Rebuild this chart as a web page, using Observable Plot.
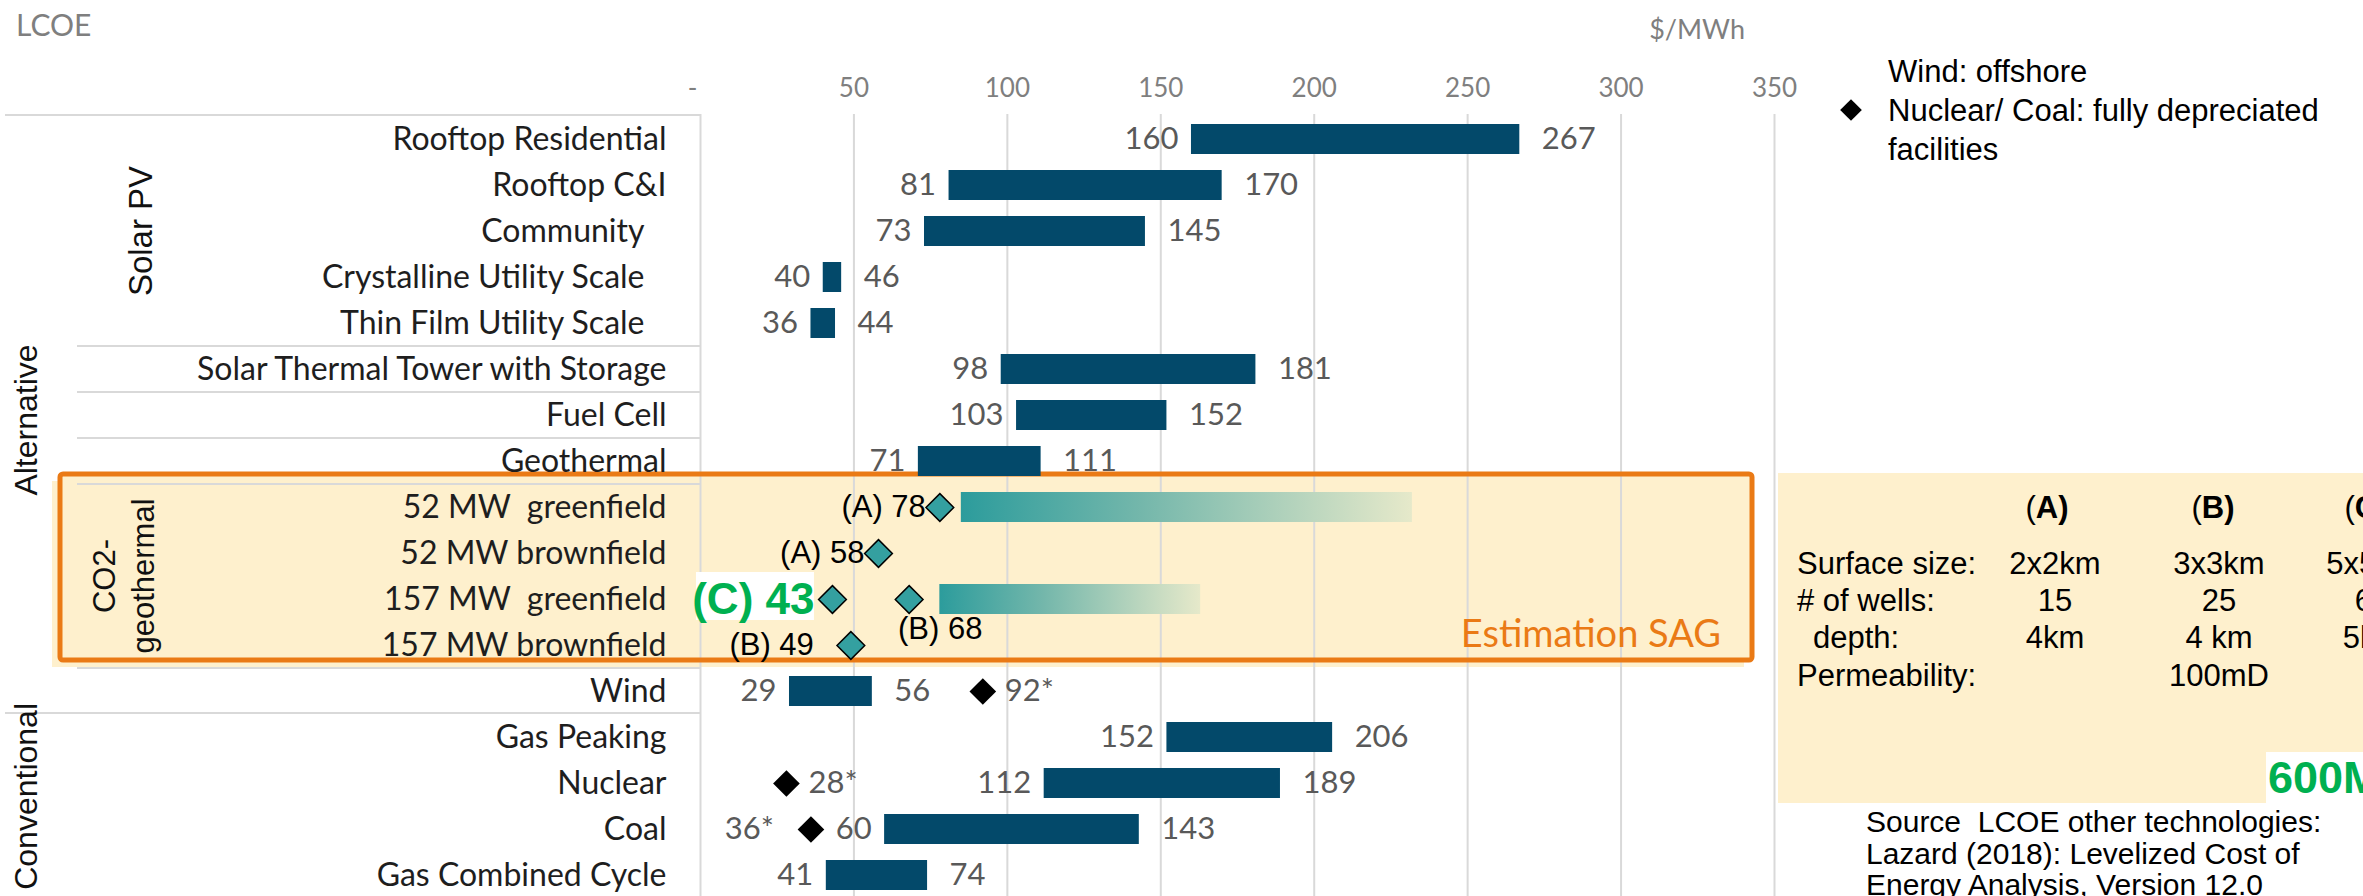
<!DOCTYPE html>
<html>
<head>
<meta charset="utf-8">
<script src="https://cdn.jsdelivr.net/npm/d3@7"></script>
<script src="https://cdn.jsdelivr.net/npm/@observablehq/plot@0.6"></script>
<style>
  html, body { margin: 0; padding: 0; background: #fff; }
  #chart svg { display: block; }
</style>
</head>
<body>
<div id="chart"></div>
<script>
// ---- Rows of the chart, top to bottom ----
const technologies = [
  "Rooftop Residential", "Rooftop C&I", "Community", "Crystalline Utility Scale",
  "Thin Film Utility Scale", "Solar Thermal Tower with Storage", "Fuel Cell", "Geothermal",
  "52 MW\u00a0 greenfield", "52 MW brownfield", "157 MW\u00a0 greenfield", "157 MW brownfield",
  "Wind", "Gas Peaking", "Nuclear", "Coal", "Gas Combined Cycle"
];

// ---- LCOE ranges of other technologies (Lazard 2018), $/MWh ----
const rangeTech = [
  "Rooftop Residential", "Rooftop C&I", "Community", "Crystalline Utility Scale",
  "Thin Film Utility Scale", "Solar Thermal Tower with Storage", "Fuel Cell", "Geothermal",
  "Wind", "Gas Peaking", "Nuclear", "Coal", "Gas Combined Cycle"
];
const rangeLow  = [160, 81, 73, 40, 36, 98, 103, 71, 29, 152, 112, 60, 41];
const rangeHigh = [267, 170, 145, 46, 44, 181, 152, 111, 56, 206, 189, 143, 74];

// ---- Offshore wind / fully depreciated plants ----
const specialTech  = ["Wind", "Nuclear", "Coal"];
const specialValue = [92, 28, 36];

// ---- CO2-geothermal estimates (SAG) ----
const co2Tech  = ["52 MW\u00a0 greenfield", "52 MW brownfield", "157 MW\u00a0 greenfield", "157 MW\u00a0 greenfield", "157 MW brownfield"];
const co2Case  = ["A", "A", "C", "B", "B"];
const co2Value = [78, 58, 43, 68, 49];

// ---- CO2-geothermal estimate spread ----
const spreadTech = ["52 MW\u00a0 greenfield", "157 MW\u00a0 greenfield"];
const spreadLow  = [85, 78];
const spreadHigh = [232, 163];

// ---- Axis ----
const xTicks = [0, 50, 100, 150, 200, 250, 300, 350];

// ---- Side table of the SAG scenarios ----
const scenarioHead  = ["A", "B", "C"];
const scenarioRows  = ["Surface size:", "# of wells:", "depth:", "Permeability:"];
const scenarioCells = [
  ["2x2km", "3x3km", "5x5km"],
  ["15", "25", "60"],
  ["4km", "4 km", "5km"],
  ["", "100mD", ""]
];

// ---- Build tables for the marks ----
const ranges = rangeTech.map((t, i) => ({tech: t, low: rangeLow[i], high: rangeHigh[i]}));
const specials = specialTech.map((t, i) => ({tech: t, value: specialValue[i]}));
const co2 = co2Tech.map((t, i) => ({tech: t, scenario: co2Case[i], value: co2Value[i]}));
const spreads = spreadTech.map((t, i) => ({tech: t, low: spreadLow[i], high: spreadHigh[i]}));

const NAVY = "#03496A";
const TEAL = "#34A0A0";
const GRID = "#D9D9D9";
const YELLOW = "#FEF0CD";
const ORANGE = "#EA7A15";
const LABEL = "#595959";
const CAL = "Lato, 'Open Sans', sans-serif";
const ARIAL = "'Liberation Sans', Arial, sans-serif";

// labels that sit a little further from the axis
const indented = new Set(["Community", "Crystalline Utility Scale", "Thin Film Utility Scale"]);

const ns = "http://www.w3.org/2000/svg";
function el(tag, attrs, text) {
  const e = document.createElementNS(ns, tag);
  for (const k in attrs) e.setAttribute(k, attrs[k]);
  if (text != null) e.textContent = text;
  return e;
}

// band helpers from the y scale
function band(scales) {
  const y = scales.y;
  const bw = y.bandwidth ? y.bandwidth() : 46.2;
  return {top: (t) => y(t), bottom: (t) => y(t) + bw, bw};
}

// Backgrounds: gradient definition, highlight panels
function backgrounds(index, scales) {
  const g = el("g", {});
  const defs = el("defs", {});
  const grad = el("linearGradient", {id: "co2spread", x1: "0", x2: "1", y1: "0", y2: "0"});
  grad.appendChild(el("stop", {offset: "0", "stop-color": "#2C9C9C"}));
  grad.appendChild(el("stop", {offset: "0.4", "stop-color": "#74B7AB"}));
  grad.appendChild(el("stop", {offset: "1", "stop-color": "#E6E9CA"}));
  defs.appendChild(grad);
  g.appendChild(defs);
  const b = band(scales);
  const top = b.top(technologies[8]) - 10;
  const bottom = b.bottom(technologies[11]) - 8;
  // soft offset shadow of the estimate box + its fill
  g.appendChild(el("rect", {x: 52, y: top + 7, width: 1692, height: bottom - top, fill: YELLOW}));
  g.appendChild(el("rect", {x: 60, y: top, width: 1692, height: bottom - top, fill: YELLOW}));
  // scenario table panel
  g.appendChild(el("rect", {x: 1778, y: 473, width: 600, height: 330, fill: YELLOW}));
  return g;
}

// Row separators of the category table
function separators(index, scales) {
  const g = el("g", {stroke: GRID, "stroke-width": 2});
  const b = band(scales);
  const full = [technologies[0], technologies[13]];
  const inner = [technologies[5], technologies[6], technologies[7], technologies[8], technologies[12]];
  for (const t of full) g.appendChild(el("line", {x1: 5, x2: 700, y1: b.top(t) - 1, y2: b.top(t) - 1}));
  for (const t of inner) g.appendChild(el("line", {x1: 77, x2: 700, y1: b.top(t), y2: b.top(t)}));
  return g;
}

// Orange frame around the SAG estimates
function estimateFrame(index, scales) {
  const g = el("g", {});
  const b = band(scales);
  const top = b.top(technologies[8]) - 10;
  const bottom = b.bottom(technologies[11]) - 8;
  g.appendChild(el("rect", {x: 60, y: top, width: 1692, height: bottom - top, fill: "none",
    stroke: ORANGE, "stroke-width": 5, rx: 3}));
  g.appendChild(el("text", {x: 1721, y: bottom - 13, "text-anchor": "end", fill: ORANGE,
    "font-family": CAL, "font-size": 38}, "Estimation SAG"));
  return g;
}

// White backing behind the highlighted (C) estimate
function highlightBacking(index, scales) {
  const x = scales.x, b = band(scales);
  const d = co2.find(d => d.scenario === "C");
  const cx = x(d.value);
  const cy = b.top(d.tech) + b.bw / 2;
  return el("rect", {x: cx - 136, y: cy - 27, width: 118, height: 48, fill: "#FFFFFF"});
}

// Fixed-layout text: titles, group labels, notes, scenario table
function annotations() {
  const g = el("g", {"text-anchor": "start"});
  const txt = (attrs, s) => g.appendChild(el("text", {"text-anchor": "start", ...attrs}, s));

  txt({x: 16, y: 36, fill: "#7F7F7F", "font-family": CAL, "font-size": 30}, "LCOE");
  txt({x: 1745, y: 39, "text-anchor": "end", fill: "#7F7F7F", "font-family": CAL, "font-size": 27}, "$/MWh");

  const rot = (x, y, s, size, anchor = "middle") => {
    txt({transform: `translate(${x},${y}) rotate(-90)`, "text-anchor": anchor,
      dy: "0.35em", fill: "#111", "font-family": ARIAL, "font-size": size}, s);
  };
  rot(26, 420, "Alternative", 32);
  rot(140, 231, "Solar PV", 33);
  rot(104, 576, "CO2-", 31);
  rot(143, 576, "geothermal", 31);
  rot(26, 703, "Conventional", 32, "end");

  // notes, upper right
  const sym = d3.symbol(d3.symbolDiamond2, 300)();
  g.appendChild(el("path", {d: sym, transform: "translate(1851,110)", fill: "#000"}));
  const note = {fill: "#000", "font-family": ARIAL, "font-size": 31};
  txt({...note, x: 1888, y: 82}, "Wind: offshore");
  txt({...note, x: 1888, y: 121}, "Nuclear/ Coal: fully depreciated");
  txt({...note, x: 1888, y: 160}, "facilities");

  // scenario table
  const heads = [2047, 2213, 2366];
  const cols = [2055, 2219, 2372];
  scenarioHead.forEach((h, i) => {
    const t = el("text", {x: heads[i], y: 518, "text-anchor": "middle", fill: "#000",
      "font-family": ARIAL, "font-size": 31});
    t.appendChild(el("tspan", {}, "("));
    t.appendChild(el("tspan", {"font-weight": "bold"}, h + ")"));
    g.appendChild(t);
  });
  const rowY = [574, 611, 648, 686];
  scenarioRows.forEach((r, j) => {
    txt({x: j === 2 ? 1813 : 1797, y: rowY[j], fill: "#000", "font-family": ARIAL, "font-size": 31}, r);
    scenarioCells[j].forEach((c, i) => {
      if (!c) return;
      txt({x: cols[i], y: rowY[j], "text-anchor": "middle", fill: "#000",
        "font-family": ARIAL, "font-size": 31}, c);
    });
  });
  // capacity of scenario C
  g.appendChild(el("rect", {x: 2266, y: 752, width: 100, height: 52, fill: "#FFFFFF"}));
  txt({x: 2268, y: 793, fill: "#00B050", "font-weight": "bold", "font-family": ARIAL, "font-size": 45}, "600MW");

  // source
  const src = {fill: "#000", "font-family": ARIAL, "font-size": 30};
  txt({...src, x: 1866, y: 832}, "Source\u00a0 LCOE other technologies:");
  txt({...src, x: 1866, y: 864}, "Lazard (2018): Levelized Cost of");
  txt({...src, x: 1866, y: 895}, "Energy Analysis, Version 12.0");
  return g;
}

const rowLabel = {y: d => d, frameAnchor: "left", textAnchor: "end", text: d => d,
  fill: "#1E1E1E", fontFamily: CAL, fontSize: 32};
const numLabel = {fill: LABEL, fontFamily: CAL, fontSize: 31};
const tickLabel = {x: d => d, frameAnchor: "top", dy: -36, fill: "#7F7F7F", fontFamily: CAL, fontSize: 26};
const caseText = d => `(${d.scenario}) ${d.value}`;

const chart = Plot.plot({
  width: 2363,
  height: 896,
  marginLeft: 700,
  marginRight: 589,
  marginTop: 114,
  marginBottom: 0,
  x: {domain: [0, 350], axis: null},
  y: {domain: technologies, range: [114, 899.4], padding: 0, axis: null},
  style: {background: "#fff", overflow: "hidden"},
  marks: [
    backgrounds,
    Plot.ruleX(xTicks, {x: d => d, stroke: GRID, strokeWidth: 2}),
    separators,
    estimateFrame,

    // tick labels (zero shown as a dash)
    Plot.text(xTicks.filter(d => d > 0), {...tickLabel, text: d => String(d)}),
    Plot.text(xTicks.filter(d => d === 0), {...tickLabel, text: () => "-", dx: -8}),

    // row labels
    Plot.text(technologies.filter(t => !indented.has(t)), {...rowLabel, dx: -34}),
    Plot.text(technologies.filter(t => indented.has(t)), {...rowLabel, dx: -56}),

    // Lazard ranges
    Plot.barX(ranges, {y: "tech", x1: "low", x2: "high", fill: NAVY, insetTop: 8, insetBottom: 8}),
    Plot.text(ranges, {y: "tech", x: "low", text: d => String(d.low), textAnchor: "end", dx: -13, ...numLabel}),
    Plot.text(ranges, {y: "tech", x: "high", text: d => String(d.high), textAnchor: "start", dx: 22, ...numLabel}),

    // offshore / depreciated
    Plot.dot(specials, {y: "tech", x: "value", symbol: "diamond2", r: 12, fill: "#000"}),
    Plot.text(specials.filter(d => d.tech !== "Coal"), {y: "tech", x: "value", text: d => `${d.value}*`,
      textAnchor: "start", dx: 22, ...numLabel}),
    Plot.text(specials.filter(d => d.tech === "Coal"), {y: "tech", x: "value", text: d => `${d.value}*`,
      textAnchor: "end", dx: -37, ...numLabel}),

    // SAG spread
    Plot.barX(spreads, {y: "tech", x1: "low", x2: "high", fill: "url(#co2spread)", insetTop: 8, insetBottom: 8}),

    // SAG point estimates
    highlightBacking,
    Plot.dot(co2, {y: "tech", x: "value", symbol: "diamond2", r: 12.5, fill: TEAL, stroke: "#000", strokeWidth: 1.5}),
    Plot.text(co2.filter(d => d.scenario === "A"), {y: "tech", x: "value", text: caseText,
      textAnchor: "end", dx: -14, fill: "#000", fontFamily: ARIAL, fontSize: 31}),
    Plot.text(co2.filter(d => d.scenario === "B" && d.value < 60), {y: "tech", x: "value", text: caseText,
      textAnchor: "end", dx: -37, fill: "#000", fontFamily: ARIAL, fontSize: 31}),
    Plot.text(co2.filter(d => d.scenario === "B" && d.value >= 60), {y: "tech", x: "value", text: caseText,
      textAnchor: "middle", dx: 31, dy: 30, fill: "#000", fontFamily: ARIAL, fontSize: 31}),
    Plot.text(co2.filter(d => d.scenario === "C"), {y: "tech", x: "value", text: caseText,
      textAnchor: "end", dx: -18, fill: "#00B050", fontWeight: "bold",
      fontFamily: "'Liberation Sans Narrow', 'Liberation Sans', sans-serif", fontSize: 44}),

    annotations
  ]
});

document.getElementById("chart").appendChild(chart);
</script>
</body>
</html>
